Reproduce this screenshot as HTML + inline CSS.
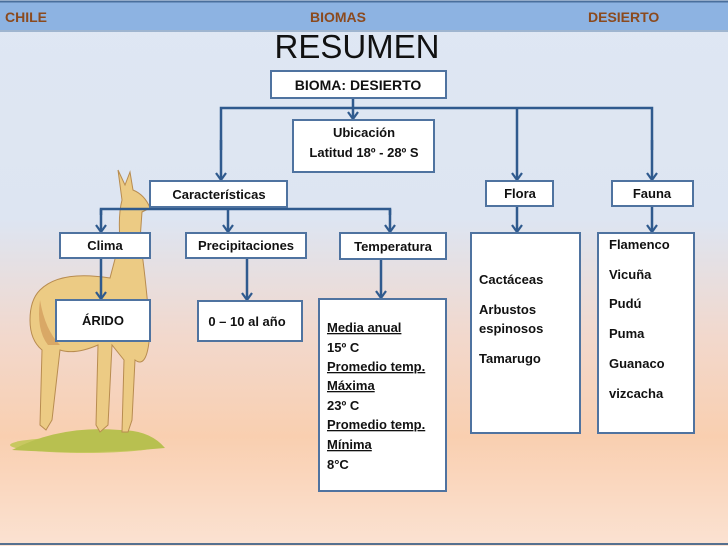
<!DOCTYPE html>
<html><head><meta charset="utf-8"><style>
html,body{margin:0;padding:0}
body{width:728px;height:546px;overflow:hidden;position:relative;font-family:"Liberation Sans",sans-serif;
background:linear-gradient(to bottom,#dfe7f3 0%,#dde5f2 40%,#f2d8cc 62%,#f9cfb0 80%,#fbe2d2 100%);}
svg{position:absolute;left:0;top:0}
text{font-family:"Liberation Sans",sans-serif;font-weight:bold;fill:#111}
</style></head><body>
<svg width="728" height="546" viewBox="0 0 728 546">
<defs><marker id="a" markerWidth="12" markerHeight="12" refX="9" refY="6" orient="auto" markerUnits="userSpaceOnUse" viewBox="0 0 12 12"><path d="M2,1 L9,6 L2,11" fill="none" stroke="#2f5a8e" stroke-width="2.2"/></marker></defs>
<!-- header -->
<rect x="0" y="2" width="728" height="29" fill="#8db3e2"/>
<line x1="0" y1="1.5" x2="728" y2="1.5" stroke="#4a6f9c" stroke-width="2"/>
<line x1="0" y1="31" x2="728" y2="31" stroke="#9fb5cf" stroke-width="2"/>
<text x="5" y="22" font-size="14" style="fill:#8b4a1e">CHILE</text>
<text x="310" y="22" font-size="14" style="fill:#8b4a1e">BIOMAS</text>
<text x="588" y="22" font-size="14" style="fill:#8b4a1e">DESIERTO</text>
<text x="357" y="58" font-size="33" text-anchor="middle" style="font-weight:normal;fill:#111">RESUMEN</text>
<line x1="0" y1="544" x2="728" y2="544" stroke="#55708f" stroke-width="2"/>
<!-- vicuna -->
<g>
<ellipse cx="85" cy="445" rx="75" ry="8" fill="#c8c860"/>
<path d="M12,450 Q60,425 120,430 Q150,430 165,448 Q90,455 12,450Z" fill="#b8c050"/>
<path d="M40,290 Q60,270 110,278 L120,240 Q118,215 122,200 L118,170 L125,185 L130,172 L133,190 Q145,195 150,208 L142,212 L140,240 Q145,270 150,330 Q148,370 135,360 L132,420 L128,432 L122,432 L124,360 L112,345 L108,425 L100,432 L96,425 L98,345 Q75,355 60,350 L52,420 L46,430 L40,425 L42,350 Q30,340 30,320 Q30,300 40,290Z" fill="#eccb84" stroke="#b88c50" stroke-width="1"/>
<path d="M40,300 Q36,330 48,345 L60,345 Q45,330 40,300Z" fill="#d9a866"/>
</g>
<!-- connectors -->
<g stroke="#2f5a8e" stroke-width="2.5" fill="none">
<line x1="353" y1="98" x2="353" y2="119" marker-end="url(#a)"/>
<polyline points="221,150 221,108 652,108 652,150"/>
<line x1="221" y1="140" x2="221" y2="180" marker-end="url(#a)"/>
<line x1="652" y1="140" x2="652" y2="180" marker-end="url(#a)"/>
<line x1="517" y1="108" x2="517" y2="180" marker-end="url(#a)"/>
<line x1="221" y1="207" x2="221" y2="209"/>
<polyline points="101,215 101,209 390,209 390,215"/>
<line x1="390" y1="209" x2="390" y2="232" marker-end="url(#a)"/>
<line x1="101" y1="209" x2="101" y2="232" marker-end="url(#a)"/>
<line x1="228" y1="209" x2="228" y2="232" marker-end="url(#a)"/>
<line x1="101" y1="258" x2="101" y2="299" marker-end="url(#a)"/>
<line x1="247" y1="258" x2="247" y2="300" marker-end="url(#a)"/>
<line x1="381" y1="259" x2="381" y2="298" marker-end="url(#a)"/>
<line x1="517" y1="206" x2="517" y2="232" marker-end="url(#a)"/>
<line x1="652" y1="206" x2="652" y2="232" marker-end="url(#a)"/>
</g>
<!-- boxes -->
<g fill="#fff" stroke="#4f73a0" stroke-width="2">
<rect x="271" y="71" width="175" height="27"/>
<rect x="293" y="120" width="141" height="52"/>
<rect x="150" y="181" width="137" height="26"/>
<rect x="486" y="181" width="67" height="25"/>
<rect x="612" y="181" width="81" height="25"/>
<rect x="60" y="233" width="90" height="25"/>
<rect x="186" y="233" width="120" height="25"/>
<rect x="340" y="233" width="106" height="26"/>
<rect x="56" y="300" width="94" height="41"/>
<rect x="198" y="301" width="104" height="40"/>
<rect x="319" y="299" width="127" height="192"/>
<rect x="471" y="233" width="109" height="200"/>
<rect x="598" y="233" width="96" height="200"/>
</g>
<g font-size="13">
<text x="358" y="90" text-anchor="middle" font-size="14">BIOMA: DESIERTO</text>
<text x="364" y="137" text-anchor="middle">Ubicación</text>
<text x="364" y="157" text-anchor="middle">Latitud 18º - 28º S</text>
<text x="219" y="199" text-anchor="middle">Características</text>
<text x="520" y="198" text-anchor="middle">Flora</text>
<text x="652" y="198" text-anchor="middle">Fauna</text>
<text x="105" y="250" text-anchor="middle">Clima</text>
<text x="246" y="250" text-anchor="middle">Precipitaciones</text>
<text x="393" y="251" text-anchor="middle">Temperatura</text>
<text x="103" y="325" text-anchor="middle">ÁRIDO</text>
<text x="247" y="326" text-anchor="middle">0 – 10 al año</text>
<text x="327" y="332" text-decoration="underline">Media anual</text>
<text x="327" y="371" text-decoration="underline">Promedio temp.</text>
<text x="327" y="390" text-decoration="underline">Máxima</text>
<text x="327" y="429" text-decoration="underline">Promedio temp.</text>
<text x="327" y="449" text-decoration="underline">Mínima</text>
<text x="327" y="352">15º C</text>
<text x="327" y="410">23º C</text>
<text x="327" y="469">8°C</text>
<text x="479" y="284">Cactáceas</text>
<text x="479" y="314">Arbustos</text>
<text x="479" y="333">espinosos</text>
<text x="479" y="363">Tamarugo</text>
<text x="609" y="249">Flamenco</text>
<text x="609" y="279">Vicuña</text>
<text x="609" y="308">Pudú</text>
<text x="609" y="338">Puma</text>
<text x="609" y="368">Guanaco</text>
<text x="609" y="398">vizcacha</text>
</g>
</svg>
</body></html>
